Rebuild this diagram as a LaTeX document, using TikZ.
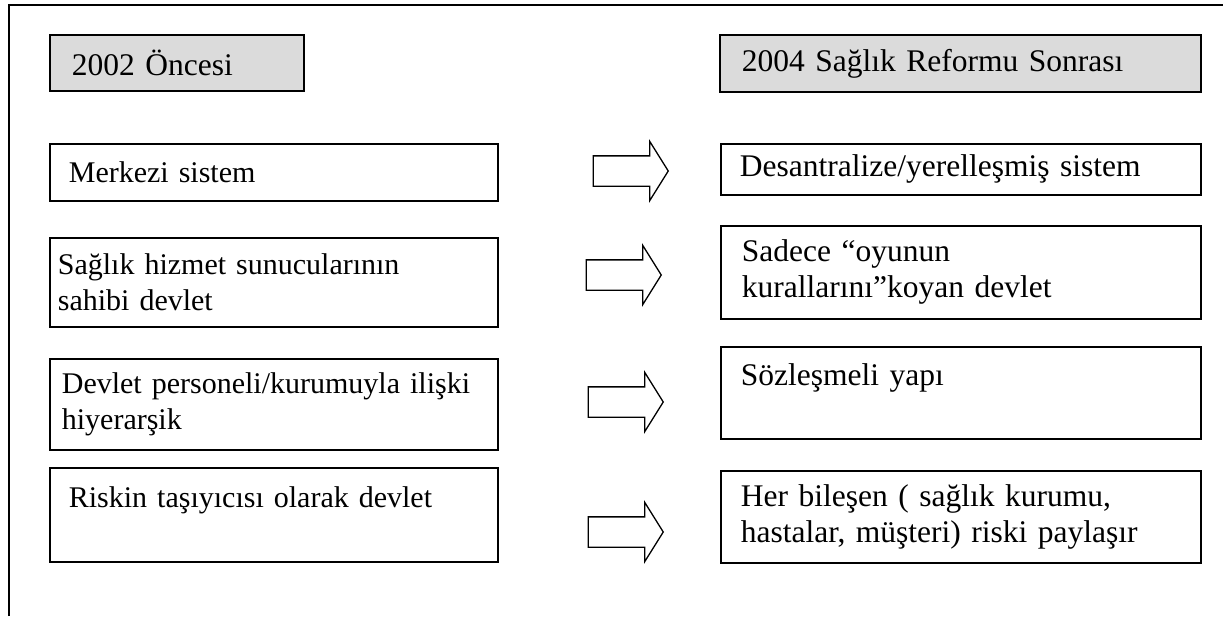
\documentclass[tikz,border=0pt]{standalone}
\usepackage{fontspec}
\setmainfont{Liberation Serif}
\usetikzlibrary{shapes.arrows, shadows}

\tikzset{
  cell/.style={draw, line width=1.7pt, anchor=north west, align=left,
    inner ysep=0pt, font=\fontsize{30}{36}\selectfont},
  newcell/.style={cell, font=\fontsize{31.5}{36}\selectfont},
  headcell/.style={cell, fill=black!14, inner xsep=22pt, font=\fontsize{31.5}{36}\selectfont,
    drop shadow={shadow xshift=1.5pt, shadow yshift=-1.5pt, fill=black!70, opacity=1}},
  turn/.style={draw, line width=1.3pt, single arrow, minimum height=75pt,
    inner xsep=0pt, inner ysep=14.5pt, single arrow head extend=14.5pt,
    single arrow tip angle=116},
}

\begin{document}
\begin{tikzpicture}[x=1pt, y=-1pt]
\useasboundingbox (0,0) rectangle (1223,616);
% frame
\draw[line width=1.2pt] (9,616) -- (9,5) -- (1223,5);

% headings
\node[headcell, text width=210pt, minimum height=56pt] (hl) at (49,34) {2002 Öncesi};
\node[headcell, text width=437pt, minimum height=57pt] (hr) at (719,34) {2004 Sağlık Reformu Sonrası};

% before 2002
\node[cell, inner xsep=19pt, text width=410pt, minimum height=57pt] (l1) at (49,143) {Merkezi sistem};
\node[cell, inner xsep=8pt, text width=432pt, minimum height=89pt] (l2) at (49,237) {Sağlık hizmet sunucularının\\sahibi devlet};
\node[cell, inner xsep=12pt, text width=424pt, minimum height=91pt] (l3) at (49,358) {Devlet personeli/kurumuyla ilişki\\hiyerarşik};
\node[cell, inner xsep=19pt, text width=410pt, minimum height=94pt] (l4) at (49,467) {Riskin taşıyıcısı olarak devlet\\\mbox{}};

% after 2004
\node[newcell, inner xsep=19pt, text width=442pt, minimum height=51pt] (r1) at (720,143) {Desantralize/yerelleşmiş sistem};
\node[newcell, inner xsep=21pt, text width=438pt, minimum height=93pt] (r2) at (720,225) {Sadece “oyunun\\kurallarını”koyan devlet};
\node[newcell, inner xsep=20pt, text width=440pt, minimum height=92pt] (r3) at (720,346) {Sözleşmeli yapı\\\mbox{}};
\node[newcell, inner xsep=20pt, text width=440pt, minimum height=92pt] (r4) at (720,470) {Her bileşen ( sağlık kurumu,\\hastalar, müşteri) riski paylaşır};

% block arrows
\node[turn] (a1) at (626,171) {};
\node[turn] (a2) at (619,275) {};
\node[turn] (a3) at (621,402) {};
\node[turn] (a4) at (621,532) {};
\end{tikzpicture}
\end{document}
